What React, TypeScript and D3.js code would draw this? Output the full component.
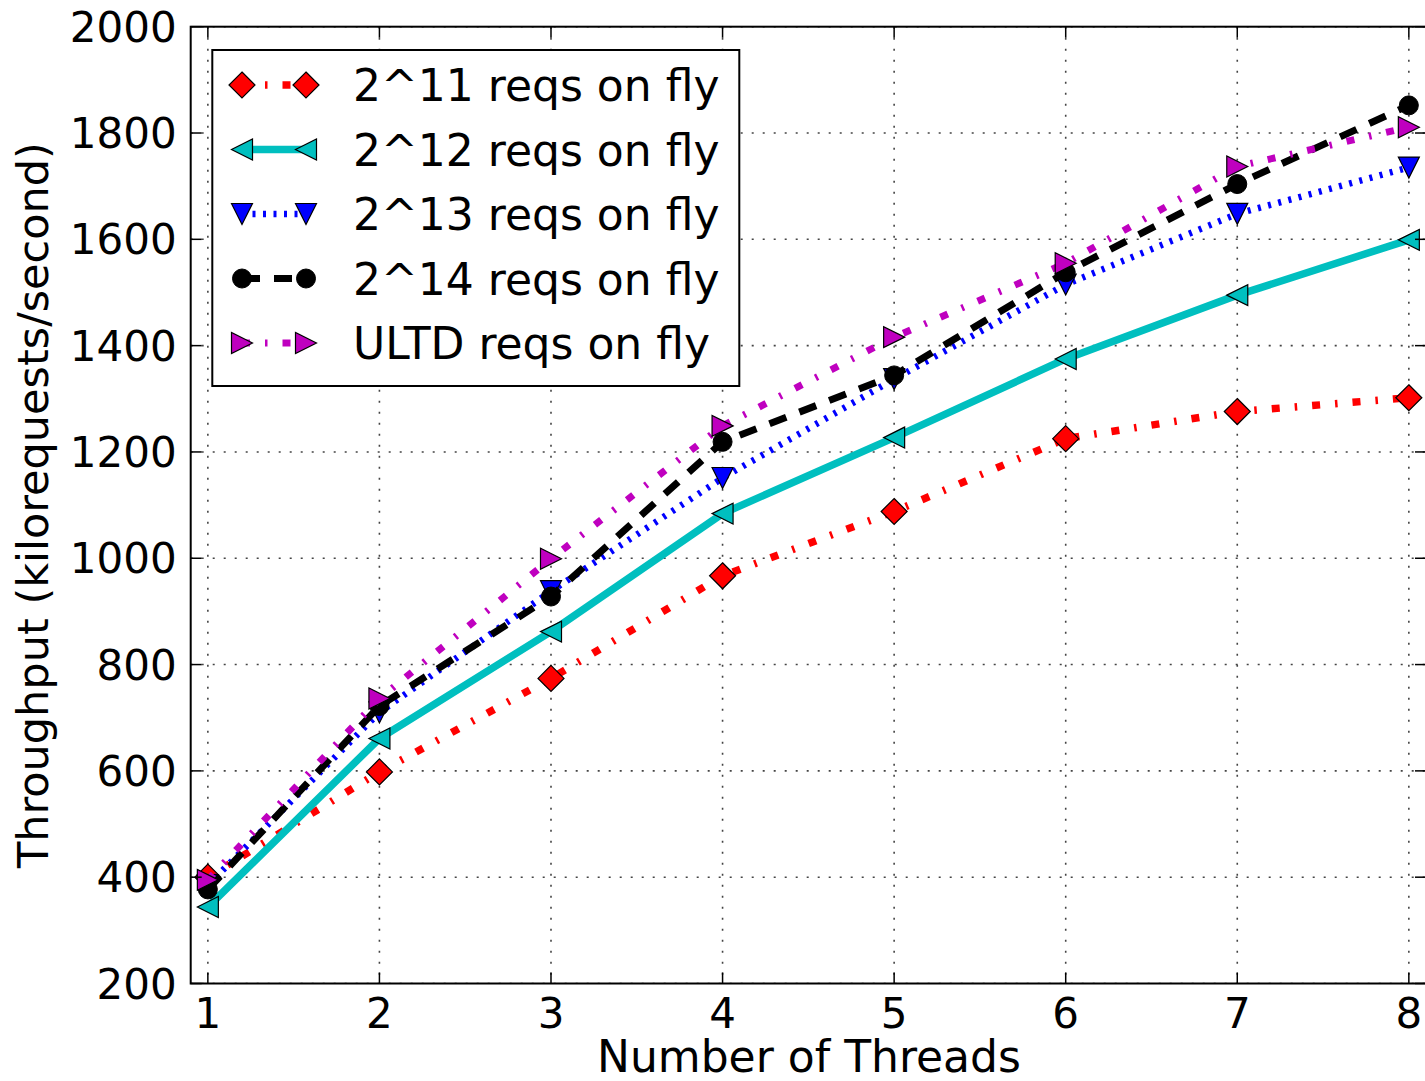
import React from "react";
import * as d3 from "d3";

const threads = [1, 2, 3, 4, 5, 6, 7, 8];
const reqs2_11 = [400, 598, 774, 967, 1088, 1225, 1276, 1302];
const reqs2_12 = [344, 661, 862, 1084, 1227, 1375, 1495, 1599];
const reqs2_13 = [385, 710, 938, 1151, 1337, 1515, 1648, 1735];
const reqs2_14 = [377, 722, 928, 1219, 1344, 1538, 1704, 1852];
const reqsULTD = [395, 736, 999, 1249, 1416, 1555, 1737, 1811];
const yTicks = [200, 400, 600, 800, 1000, 1200, 1400, 1600, 1800, 2000];
const xTicks = [1, 2, 3, 4, 5, 6, 7, 8];

type Marker = "D" | "<" | "v" | "o" | ">";
const series: { name: string; values: number[]; color: string; width: number; dash: string | null; marker: Marker }[] = [
  { name: "2^11 reqs on fly", values: reqs2_11, color: "#ff0000", width: 7.5, dash: "8,15,2.5,15", marker: "D" },
  { name: "2^12 reqs on fly", values: reqs2_12, color: "#00bfbf", width: 7.5, dash: null, marker: "<" },
  { name: "2^13 reqs on fly", values: reqs2_13, color: "#0000ff", width: 6.5, dash: "3,7.5", marker: "v" },
  { name: "2^14 reqs on fly", values: reqs2_14, color: "#000000", width: 7, dash: "18,14", marker: "o" },
  { name: "ULTD reqs on fly", values: reqsULTD, color: "#bf00bf", width: 7, dash: "8,15,2.5,15", marker: ">" },
];

const W = 1425, H = 1081;
const left = 190.7, top = 26.7, right = 1426, bottom = 983.5;
const FONT = "DejaVu Sans";

function markerPath(m: Marker): string {
  const s = 10.5;
  switch (m) {
    case "D": return "M0,-13L13,0L0,13L-13,0Z";
    case "<": return `M${-s},0L${s},${-s}L${s},${s}Z`;
    case ">": return `M${s},0L${-s},${-s}L${-s},${s}Z`;
    case "v": return `M0,${s}L${-s},${-s}L${s},${-s}Z`;
    case "o": return "";
  }
}

function MarkerShape({ m, x, y, color }: { m: Marker; x: number; y: number; color: string }) {
  if (m === "o") return <circle cx={x} cy={y} r={9.5} fill={color} stroke="#000" strokeWidth={1} />;
  return <path d={markerPath(m)} transform={`translate(${x},${y})`} fill={color} stroke="#000" strokeWidth={1.2} />;
}

export default function App() {
  const x = d3.scaleLinear().domain([0.9, 8.1]).range([left, right]);
  const y = d3.scaleLinear().domain([200, 2000]).range([bottom, top]);
  const line = d3.line<number>().x((_, i) => x(threads[i])).y((v) => y(v));

  const legX0 = 242, legX1 = 306, legRow0 = 85, legStep = 64.5;

  return (
    <svg width={W} height={H} style={{ position: "absolute", left: 0, top: 0, background: "#fff" }} fontFamily={FONT}>
      <defs>
        <clipPath id="plot"><rect x={left} y={top} width={right - left} height={bottom - top} /></clipPath>
      </defs>
      <rect x={0} y={0} width={W} height={H} fill="#fff" />
      {/* grid */}
      <g stroke="#444" strokeWidth={1.6} strokeDasharray="2,9" clipPath="url(#plot)">
        {xTicks.map((t) => <line key={"gx" + t} x1={x(t)} x2={x(t)} y1={top} y2={bottom} />)}
        {yTicks.map((t) => <line key={"gy" + t} x1={left} x2={right} y1={y(t)} y2={y(t)} />)}
      </g>
      {/* series */}
      <g clipPath="url(#plot)">
        {series.map((s) => (
          <g key={s.name}>
            <path d={line(s.values) || ""} fill="none" stroke={s.color} strokeWidth={s.width}
              strokeDasharray={s.dash || undefined} strokeLinecap="butt" strokeLinejoin="round" />
            {s.values.map((v, i) => <MarkerShape key={i} m={s.marker} x={x(threads[i])} y={y(v)} color={s.color} />)}
          </g>
        ))}
      </g>
      {/* ticks */}
      <g stroke="#000" strokeWidth={1.5}>
        {xTicks.map((t) => (
          <g key={"tx" + t}>
            <line x1={x(t)} x2={x(t)} y1={bottom} y2={bottom - 11} />
            <line x1={x(t)} x2={x(t)} y1={top} y2={top + 11} />
          </g>
        ))}
        {yTicks.map((t) => (
          <g key={"ty" + t}>
            <line x1={left} x2={left + 11} y1={y(t)} y2={y(t)} />
            <line x1={right} x2={right - 11} y1={y(t)} y2={y(t)} />
          </g>
        ))}
      </g>
      {/* frame */}
      <rect x={left} y={top} width={right - left} height={bottom - top} fill="none" stroke="#000" strokeWidth={2} />
      {/* tick labels */}
      <g fontSize={42} fill="#000">
        {yTicks.map((t) => (
          <text key={"ly" + t} x={left - 14} y={y(t) + 15} textAnchor="end">{t}</text>
        ))}
        {xTicks.map((t) => (
          <text key={"lx" + t} x={x(t)} y={1028} textAnchor="middle">{t}</text>
        ))}
      </g>
      <text x={809} y={1072} fontSize={44} textAnchor="middle" fill="#000">Number of Threads</text>
      <text transform={`translate(48,${(top + bottom) / 2}) rotate(-90)`} fontSize={43} textAnchor="middle" fill="#000">
        Throughput (kilorequests/second)
      </text>
      {/* legend */}
      <rect x={212.3} y={50} width={527} height={336} fill="#fff" stroke="#000" strokeWidth={2} />
      {series.map((s, i) => {
        const cy = legRow0 + i * legStep;
        return (
          <g key={"leg" + s.name}>
            <line x1={legX0} x2={legX1} y1={cy} y2={cy} stroke={s.color} strokeWidth={s.width}
              strokeDasharray={s.dash || undefined} />
            <MarkerShape m={s.marker} x={legX0} y={cy} color={s.color} />
            <MarkerShape m={s.marker} x={legX1} y={cy} color={s.color} />
            <text x={353} y={cy + 16} fontSize={44} fill="#000">{s.name}</text>
          </g>
        );
      })}
    </svg>
  );
}
